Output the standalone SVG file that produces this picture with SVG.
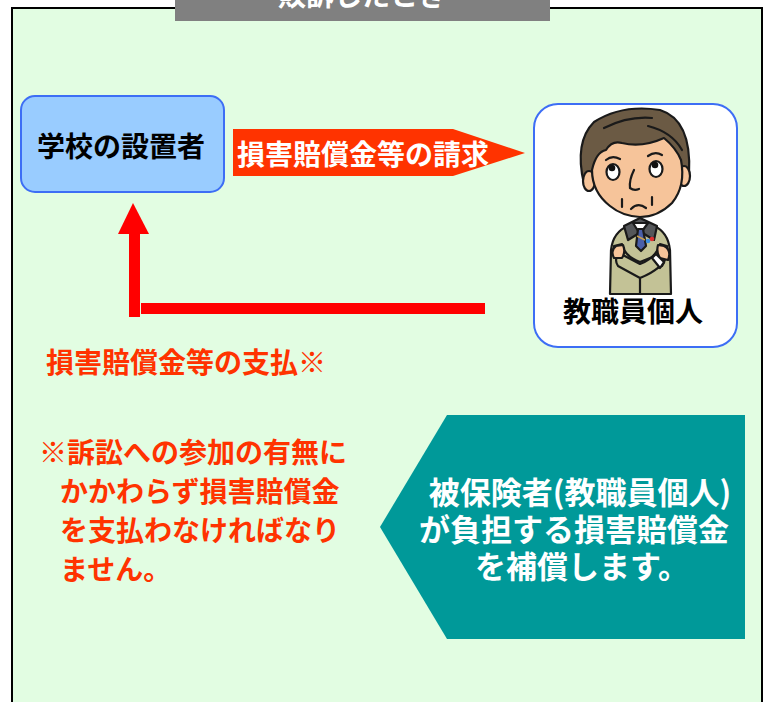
<svg xmlns="http://www.w3.org/2000/svg" width="768" height="702" viewBox="0 0 768 702">
  <style>
    .jp { font-family: "Noto Sans CJK JP", "Noto Sans CJK SC", sans-serif; font-weight: bold; }
    .ink { stroke: #1a1a1a; stroke-width: 2.2; stroke-linejoin: round; stroke-linecap: round; }
    .skin { fill: #f6c49a; }
    .suit { fill: #c3c296; }
    .hair { fill: #6b5a44; }
  </style>
  <rect x="0" y="0" width="768" height="702" fill="#ffffff"/>
  <!-- Outer panel -->
  <rect x="12" y="8" width="750" height="710" fill="#e2fde2" stroke="#000" stroke-width="2"/>
  <!-- Title tab -->
  <g id="title">
    <rect x="175" y="0" width="375" height="21" fill="#808080"/>
    <text x="362" y="6" class="jp" font-size="28" fill="#fff" text-anchor="middle">敗訴したとき</text>
  </g>

  <!-- School founder -->
  <g id="school">
    <rect x="21" y="96" width="203" height="96" rx="14" fill="#99ccff" stroke="#3d6ef5" stroke-width="2"/>
    <text x="121" y="157" class="jp" font-size="28" fill="#000" text-anchor="middle">学校の設置者</text>
  </g>

  <!-- Staff member -->
  <g id="staff">
    <rect x="534" y="104" width="203" height="243" rx="24" fill="#fff" stroke="#3d6ef5" stroke-width="2"/>
    <g>
      <!-- suit -->
      <path class="ink suit" d="M610 294 L611 250 Q613 232 628 226 L640 222 L654 226 Q668 232 670 250 L671 294 Z"/>
      <!-- collar, shirt and tie -->
      <path class="ink" d="M624 226 L640 218 L657 226 L654 240 L641 232 L628 240 Z" fill="#55575a"/>
      <path class="ink" d="M633 223 L640 234 L648 223 Z" fill="#fff"/>
      <path class="ink" d="M638 229 L643 229 L646 246 L641 251 L636 246 Z" fill="#4a5fa8"/>
      <line x1="637" y1="236" x2="645" y2="240" stroke="#c9a050" stroke-width="1.5"/>
      <circle cx="648" cy="241" r="2.3" fill="#3a8ee0"/>
      <circle cx="652" cy="239" r="2.3" fill="#e03030"/>
      <!-- crossed arms -->
      <path class="ink suit" d="M614 246 Q612 266 640 276 L662 266 Q668 258 660 254 L640 262 Q624 256 622 244 Z"/>
      <path class="ink suit" d="M667 246 Q670 266 640 278 L618 266 Q613 258 621 254 L640 264 Q656 258 660 244 Z"/>
      <path class="ink skin" d="M616 246 Q610 250 614 258 L622 258 Q626 252 623 245 Z"/>
      <path class="ink skin" d="M664 246 Q672 250 668 260 L660 258 Q656 252 658 245 Z"/>
      <path class="ink" d="M652 258 L660 268 L664 262 L656 254 Z" fill="#fff"/>
      <line class="ink" x1="640" y1="279" x2="640" y2="294"/>
      <!-- hair, back part -->
      <path class="ink hair" d="M584 184 Q574 142 594 122 Q622 104 660 110 Q692 120 689 174 L680 178 L590 186 Z"/>
      <!-- ears -->
      <ellipse class="ink skin" cx="589" cy="181" rx="6" ry="10"/>
      <ellipse class="ink skin" cx="684" cy="176" rx="6" ry="10"/>
      <!-- face, top edge follows the fringe -->
      <path class="ink skin" d="M592 170 Q596 152 606 150 Q612 140 622 143 Q642 148 664 138 Q676 148 681 160 Q686 186 672 203 Q658 217 640 217 Q622 216 610 206 Q592 192 592 170 Z"/>
      <!-- hair strands -->
      <path class="ink" d="M604 128 Q628 116 652 118" fill="none"/>
      <path class="ink" d="M648 126 Q672 132 682 150" fill="none"/>
      <!-- brows -->
      <path class="ink" d="M606 160 Q612 155 620 159" fill="none" stroke-width="3"/>
      <path class="ink" d="M648 156 Q655 151 662 155" fill="none" stroke-width="3"/>
      <!-- eyes -->
      <ellipse class="ink" cx="613" cy="172" rx="6.5" ry="8" fill="#fff"/>
      <ellipse class="ink" cx="656" cy="169" rx="6.5" ry="8" fill="#fff"/>
      <circle cx="612" cy="168" r="3.3" fill="#111"/>
      <circle cx="655" cy="165" r="3.3" fill="#111"/>
      <!-- nose -->
      <path class="ink" d="M634 170 Q629 180 630 188 Q634 191 639 189" fill="none"/>
      <!-- cheeks and mouth -->
      <path class="ink" d="M622 199 L622 207 M652 197 L652 205" fill="none" stroke-width="1.8"/>
      <path class="ink" d="M631 209 Q638 202 646 208" fill="none"/>
    </g>
    <text x="633" y="322" class="jp" font-size="28" fill="#000" text-anchor="middle">教職員個人</text>
  </g>

  <!-- Connectors -->
  <g id="connectors">
    <!-- claim arrow -->
    <polygon points="233,129 453,129 525,153 453,176 233,176" fill="#ff3300"/>
    <text x="237" y="165" class="jp" font-size="28" fill="#fff">損害賠償金等の請求</text>
    <!-- payment path -->
    <rect x="141" y="303" width="344" height="11" fill="#ff0000"/>
    <polygon points="129,317 140,317 140,234 129,234" fill="#ff0000"/>
    <polygon points="133,203 149,234 118,234" fill="#ff0000"/>
  </g>

  <g id="payment-label">
    <text x="46" y="373" class="jp" font-size="28" fill="#ff3300">損害賠償金等の支払※</text>
  </g>

  <g id="note" class="jp" font-size="28" fill="#ff3300">
    <text x="39" y="463">※訴訟への参加の有無に</text>
    <text x="60" y="502">かかわらず損害賠償金</text>
    <text x="60" y="541">を支払わなければなり</text>
    <text x="60" y="580">ません。</text>
  </g>

  <!-- Insurance coverage -->
  <g id="coverage">
    <polygon points="380,527 447,415 745,415 745,639 447,639" fill="#009999"/>
    <g class="jp" font-size="31" fill="#fff" font-weight="600">
      <text x="580" y="504" text-anchor="middle">被保険者(教職員個人)</text>
      <text x="574" y="541" text-anchor="middle">が負担する損害賠償金</text>
      <text x="582" y="578" text-anchor="middle">を補償します。</text>
    </g>
  </g>
</svg>
